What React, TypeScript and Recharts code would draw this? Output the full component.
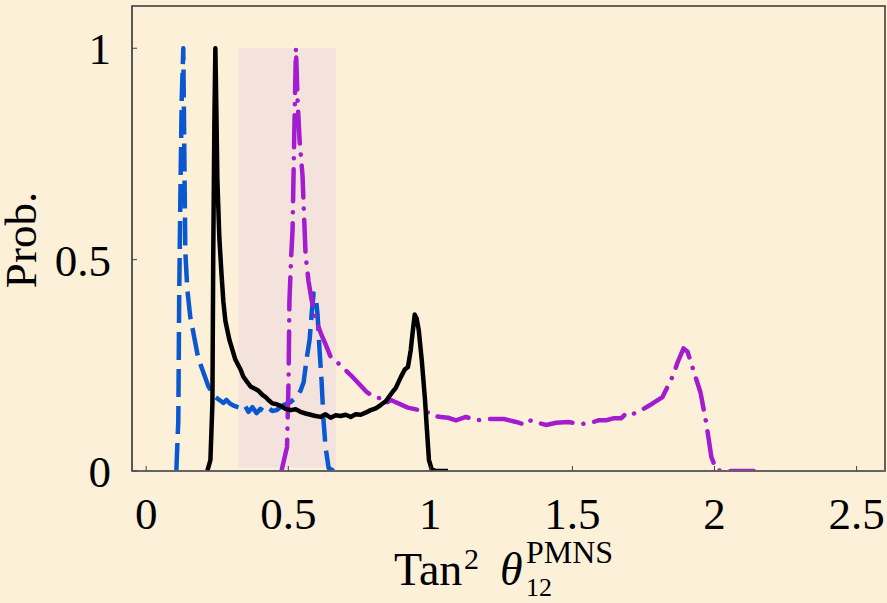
import React from 'react';
import { LineChart, Line, XAxis, YAxis, ReferenceArea, Label } from 'recharts';

// [tan^2 theta, probability]
const blueCurve: number[][] = [
  [0.106, 0], [0.113, 0.12], [0.116, 0.405], [0.12, 0.64], [0.125, 0.88], [0.1305, 1.0],
  [0.134, 0.76], [0.1376, 0.52], [0.1446, 0.43], [0.155, 0.365], [0.166, 0.327], [0.183, 0.267],
  [0.1975, 0.24], [0.219, 0.2], [0.243, 0.175], [0.2575, 0.168], [0.272, 0.161], [0.282, 0.168],
  [0.296, 0.159], [0.31, 0.154], [0.332, 0.149], [0.346, 0.156], [0.36, 0.14], [0.374, 0.151],
  [0.388, 0.137], [0.402, 0.147], [0.416, 0.14], [0.43, 0.149], [0.444, 0.142], [0.4586, 0.144],
  [0.483, 0.156], [0.508, 0.163], [0.529, 0.175], [0.543, 0.19], [0.554, 0.21], [0.564, 0.263],
  [0.575, 0.31], [0.582, 0.37], [0.589, 0.42], [0.596, 0.415], [0.603, 0.37], [0.61, 0.286],
  [0.617, 0.215], [0.624, 0.12], [0.631, 0.057], [0.642, 0.007], [0.66, 0],
];

const blackCurve: number[][] = [
  [0.215, 0], [0.226, 0.026], [0.233, 0.16], [0.236, 0.52], [0.24, 0.83], [0.2434, 1.0],
  [0.247, 0.85], [0.2504, 0.69], [0.2575, 0.55], [0.2646, 0.47], [0.2716, 0.4], [0.2787, 0.355],
  [0.2928, 0.31], [0.314, 0.263], [0.332, 0.24], [0.342, 0.223], [0.356, 0.21], [0.367, 0.2],
  [0.381, 0.195], [0.395, 0.19], [0.409, 0.18], [0.42, 0.175], [0.43, 0.168], [0.444, 0.16],
  [0.459, 0.158], [0.473, 0.154], [0.49, 0.147], [0.508, 0.144], [0.526, 0.146], [0.543, 0.14],
  [0.561, 0.136], [0.5785, 0.133], [0.596, 0.13], [0.614, 0.128], [0.631, 0.134], [0.649, 0.126],
  [0.667, 0.132], [0.684, 0.13], [0.702, 0.133], [0.7196, 0.128], [0.737, 0.134], [0.755, 0.133],
  [0.772, 0.138], [0.79, 0.144], [0.808, 0.148], [0.825, 0.156], [0.843, 0.165], [0.854, 0.175],
  [0.868, 0.188], [0.878, 0.196], [0.896, 0.222], [0.91, 0.24], [0.921, 0.246], [0.931, 0.286],
  [0.938, 0.33], [0.945, 0.37], [0.952, 0.36], [0.959, 0.334], [0.97, 0.26], [0.981, 0.17],
  [0.988, 0.097], [0.995, 0.026], [1.005, 0.003], [1.019, 0], [1.062, 0],
];

const purpleCurve: number[][] = [
  [0.476, 0], [0.4956, 0.057], [0.501, 0.215], [0.504, 0.4], [0.5097, 0.5], [0.515, 0.57],
  [0.5185, 0.7], [0.522, 0.83], [0.527, 1.0], [0.5326, 0.88], [0.54, 0.78], [0.55, 0.7],
  [0.561, 0.51], [0.571, 0.45], [0.582, 0.405], [0.596, 0.36], [0.614, 0.327], [0.631, 0.3],
  [0.649, 0.27], [0.663, 0.263], [0.7196, 0.227], [0.776, 0.187], [0.8007, 0.175], [0.825, 0.172],
  [0.843, 0.16], [0.861, 0.168], [0.9206, 0.15], [0.9877, 0.14], [1.009, 0.13], [1.037, 0.128],
  [1.062, 0.126], [1.09, 0.12], [1.125, 0.128], [1.16, 0.12], [1.213, 0.123], [1.259, 0.123],
  [1.302, 0.116], [1.337, 0.109], [1.354, 0.12], [1.379, 0.114], [1.407, 0.109], [1.443, 0.114],
  [1.485, 0.116], [1.531, 0.111], [1.566, 0.114], [1.591, 0.12], [1.619, 0.12], [1.647, 0.125],
  [1.672, 0.125], [1.69, 0.137], [1.707, 0.133], [1.743, 0.144], [1.778, 0.158], [1.817, 0.175],
  [1.855, 0.227], [1.869, 0.255], [1.891, 0.29], [1.905, 0.282], [1.922, 0.246], [1.951, 0.185],
  [1.972, 0.109], [1.989, 0.033], [2.007, 0.002], [2.042, 0], [2.138, 0],
];

const xTicks = [0, 0.5, 1, 1.5, 2, 2.5];
const yTicks = [0, 0.5, 1];
const xDomain = [-0.05, 2.6];
const yDomain = [0, 1.1];
const shadedRange = { x1: 0.3245, x2: 0.667, y1: 0.008, y2: 1 };

const toRows = (pts: number[][]) => pts.map(([x, y]) => ({ x, y }));
const blueData = toRows(blueCurve);
const blackData = toRows(blackCurve);
const purpleData = toRows(purpleCurve);

const FONT = 'Liberation Serif, Times New Roman, serif';

const XLabel = (props: any) => {
  const vb = props.viewBox || { x: 132, y: 471, width: 753 };
  const bx = vb.x + 262;
  const by = vb.y + 114;
  return (
    <g fontFamily={FONT} fill="#000">
      <text x={bx} y={by} fontSize={46}>Tan</text>
      <text x={bx + 70} y={by - 16} fontSize={30}>2</text>
      <text x={bx + 106} y={by} fontSize={46} fontStyle="italic">θ</text>
      <text x={bx + 132} y={by - 22} fontSize={32}>PMNS</text>
      <text x={bx + 132} y={by + 11} fontSize={26}>12</text>
    </g>
  );
};

const YLabel = (props: any) => {
  const vb = props.viewBox || { x: 0, y: 6, width: 132, height: 465 };
  const cx = vb.x + vb.width - 96;
  const cy = vb.y + 234;
  return (
    <text
      x={cx}
      y={cy}
      transform={`rotate(-90, ${cx}, ${cy})`}
      textAnchor="middle"
      fontFamily={FONT}
      fontSize={45}
      fill="#000"
    >
      Prob.
    </text>
  );
};

export default function App() {
  return (
    <div
      style={{
        position: 'absolute',
        left: 0,
        top: 0,
        width: 887,
        height: 603,
        background: '#fcf0d9',
        overflow: 'hidden',
      }}
    >
      <LineChart
        width={887}
        height={603}
        margin={{ top: 6, right: 2, bottom: 0, left: 0 }}
      >
        <ReferenceArea
          x1={shadedRange.x1}
          x2={shadedRange.x2}
          y1={shadedRange.y1}
          y2={shadedRange.y2}
          fill="#f3e3dc"
          fillOpacity={1}
          stroke="none"
          ifOverflow="visible"
        />
        <ReferenceArea
          x1={xDomain[0]}
          x2={xDomain[1]}
          y1={yDomain[0]}
          y2={yDomain[1]}
          fill="none"
          stroke="#333"
          strokeWidth={1.5}
          ifOverflow="visible"
        />
        <XAxis
          type="number"
          dataKey="x"
          domain={xDomain}
          ticks={xTicks}
          allowDataOverflow
          height={132}
          tickSize={-5}
          tickMargin={31}
          axisLine={{ stroke: '#666', strokeWidth: 1.5 }}
          tickLine={{ stroke: '#444', strokeWidth: 1 }}
          tick={{ fontSize: 45, fontFamily: FONT, fill: '#000' }}
          tickFormatter={(v: number) => String(v)}
          interval={0}
        >
          <Label content={<XLabel />} />
        </XAxis>
        <YAxis
          type="number"
          dataKey="y"
          domain={yDomain}
          ticks={yTicks}
          allowDataOverflow
          width={132}
          tickSize={-5}
          tickMargin={26}
          axisLine={{ stroke: '#555', strokeWidth: 1.5 }}
          tickLine={{ stroke: '#444', strokeWidth: 1 }}
          tick={{ fontSize: 45, fontFamily: FONT, fill: '#000' }}
          tickFormatter={(v: number) => String(v)}
          interval={0}
        >
          <Label content={<YLabel />} />
        </YAxis>
        <Line
          data={blueData}
          dataKey="y"
          type="linear"
          stroke="#0a58d0"
          strokeWidth={4.5}
          strokeDasharray="28 9"
          strokeLinejoin="round"
          dot={false}
          activeDot={false}
          isAnimationActive={false}
        />
        <Line
          data={purpleData}
          dataKey="y"
          type="linear"
          stroke="#a31cd0"
          strokeWidth={4.5}
          strokeDasharray="32 11 0.1 11"
          strokeLinecap="round"
          strokeLinejoin="round"
          dot={false}
          activeDot={false}
          isAnimationActive={false}
        />
        <Line
          data={blackData}
          dataKey="y"
          type="linear"
          stroke="#000"
          strokeWidth={4.5}
          strokeLinejoin="round"
          dot={false}
          activeDot={false}
          isAnimationActive={false}
        />
      </LineChart>
    </div>
  );
}
